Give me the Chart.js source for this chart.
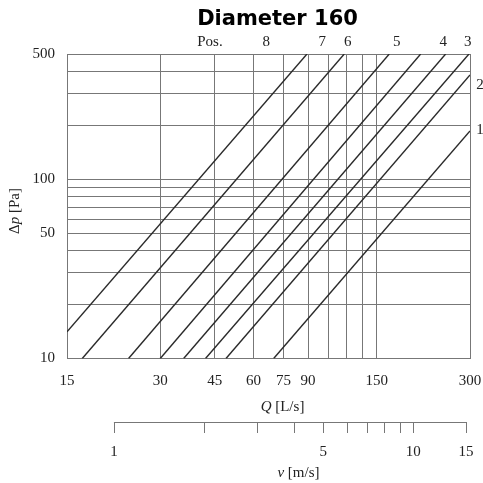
<!DOCTYPE html>
<html>
<head>
<meta charset="utf-8">
<script src="https://cdn.jsdelivr.net/npm/chart.js@4"></script>
<style>
  body { margin: 0; background: #fff; }
</style>
</head>
<body>
<canvas id="myChart" width="483" height="483"></canvas>
<script>
// line data, one entry per position (8 .. 1)
const positions = ["8", "7", "6", "5", "4", "3", "2", "1"];
const flowStart = [15, 16.8, 23.7, 30, 35.7, 42, 48.9, 69.7];
const dpStart = [14.1, 10, 10, 10, 10, 10, 10, 10];
const flowEnd = [89.3, 117.8, 164.6, 207.9, 250.3, 297.7, 300, 300];
const dpEnd = [500, 500, 500, 500, 500, 500, 382, 186];

// position labels
const topLabels = ["Pos.", "8", "7", "6", "5", "4", "3"];
const topLabelFlow = [43.4, 66, 100, 121, 174, 246, 295];
const sideLabels = ["2", "1"];
const sideLabelDp = [336, 188];

// ticks
const flowTicks = [15, 30, 45, 60, 75, 90, 105, 120, 135, 150, 300];
const flowLabels = [15, 30, 45, 60, 75, 90, 150, 300];
const dpTicks = [10, 20, 30, 40, 50, 60, 70, 80, 90, 100, 200, 300, 400, 500];
const dpLabels = [10, 50, 100, 500];
const velTicks = [1, 2, 3, 4, 5, 6, 7, 8, 9, 10, 15];
const velLabels = [1, 5, 10, 15];
const velRange = [0.697, 15.47];

const serif = "'Liberation Serif', 'DejaVu Serif', serif";
const gridColor = "#777";
const textColor = "#222";

const datasets = positions.map((p, i) => ({
  label: "Pos. " + p,
  data: [
    { x: flowStart[i], y: dpStart[i] },
    { x: flowEnd[i], y: dpEnd[i] },
  ],
  showLine: true,
  borderColor: "#2a2a2a",
  borderWidth: 1.4,
  pointRadius: 0,
}));

function richText(ctx, parts, x, y, size) {
  let total = 0;
  parts.forEach((pt) => {
    ctx.font = (pt.italic ? "italic " : "") + size + "px " + serif;
    pt.w = ctx.measureText(pt.t).width;
    total += pt.w;
  });
  let cx = x - total / 2;
  parts.forEach((pt) => {
    ctx.font = (pt.italic ? "italic " : "") + size + "px " + serif;
    ctx.fillText(pt.t, cx, y);
    cx += pt.w;
  });
}

const annotations = {
  id: "annotations",
  afterDraw(chart) {
    const { ctx, chartArea } = chart;
    const xs = chart.scales.x;
    const ys = chart.scales.y;
    const vs = chart.scales.v;
    ctx.save();
    ctx.fillStyle = "#000";
    ctx.textAlign = "center";
    ctx.textBaseline = "middle";
    ctx.font = "bold 21px 'DejaVu Sans', Verdana, sans-serif";
    ctx.fillText("Diameter 160", chart.width / 2 + 36, 20);

    ctx.fillStyle = textColor;
    ctx.font = "15px " + serif;
    topLabels.forEach((t, i) => {
      ctx.fillText(t, xs.getPixelForValue(topLabelFlow[i]), chartArea.top - 12);
    });
    sideLabels.forEach((t, i) => {
      ctx.fillText(t, chartArea.right + 10, ys.getPixelForValue(sideLabelDp[i]));
    });

    // axis titles
    ctx.textAlign = "left";
    richText(ctx, [{ t: "Q", italic: true }, { t: " [L/s]" }], (chartArea.left + chartArea.right) / 2 + 14, 407, 15);
    richText(ctx, [{ t: "v", italic: true }, { t: " [m/s]" }], (chartArea.left + chartArea.right) / 2 + 30, 473, 15);
    ctx.save();
    ctx.translate(15, 211);
    ctx.rotate(-Math.PI / 2);
    richText(ctx, [{ t: "Δ" }, { t: "p", italic: true }, { t: " [Pa]" }], 0, 0, 15);
    ctx.restore();

    // velocity axis line from first to last tick
    ctx.strokeStyle = gridColor;
    ctx.lineWidth = 1;
    ctx.beginPath();
    ctx.moveTo(vs.getPixelForValue(velTicks[0]), vs.top + 0.5);
    ctx.lineTo(vs.getPixelForValue(velTicks[velTicks.length - 1]), vs.top + 0.5);
    ctx.stroke();
    ctx.restore();
  },
};

new Chart(document.getElementById("myChart"), {
  type: "scatter",
  data: { datasets },
  options: {
    responsive: false,
    animation: false,
    layout: { padding: { top: 54, right: 13, left: 0, bottom: 0 } },
    plugins: {
      legend: { display: false },
      tooltip: { enabled: false },
    },
    scales: {
      x: {
        type: "logarithmic",
        position: "bottom",
        weight: 0,
        min: 15,
        max: 300,
        afterBuildTicks: (s) => { s.ticks = flowTicks.map((v) => ({ value: v })); },
        afterFit: (s) => { s.height = 63.5; },
        ticks: {
          autoSkip: false,
          maxRotation: 0,
          padding: 0,
          color: textColor,
          font: { family: serif, size: 15 },
          callback: (v) => (flowLabels.includes(v) ? String(v) : ""),
        },
        grid: { color: gridColor, drawTicks: true, tickLength: 14, tickColor: "rgba(0,0,0,0)" },
        border: { color: gridColor },
      },
      v: {
        type: "logarithmic",
        position: "bottom",
        weight: 1,
        min: velRange[0],
        max: velRange[1],
        afterBuildTicks: (s) => { s.ticks = velTicks.map((v) => ({ value: v })); },
        afterFit: (s) => { s.height = 61; },
        ticks: {
          autoSkip: false,
          maxRotation: 0,
          padding: 0,
          color: textColor,
          font: { family: serif, size: 15 },
          callback: (v) => (velLabels.includes(v) ? String(v) : ""),
        },
        grid: { color: gridColor, drawOnChartArea: false, drawTicks: true, tickLength: 21, tickColor: "rgba(0,0,0,0)" },
        border: { display: false },
      },
      y: {
        type: "logarithmic",
        min: 10,
        max: 500,
        afterBuildTicks: (s) => { s.ticks = dpTicks.map((v) => ({ value: v })); },
        afterFit: (s) => { s.width = 67; },
        ticks: {
          autoSkip: false,
          padding: 12,
          color: textColor,
          font: { family: serif, size: 15 },
          callback: (v) => (dpLabels.includes(v) ? String(v) : ""),
        },
        grid: { color: gridColor, drawTicks: false },
        border: { color: gridColor },
      },
    },
  },
  plugins: [annotations, {
    id: "velTicks",
    afterDraw(chart) {
      // short tick marks under the velocity axis line
      const { ctx } = chart;
      const vs = chart.scales.v;
      ctx.save();
      ctx.strokeStyle = gridColor;
      ctx.lineWidth = 1;
      ctx.beginPath();
      vs.ticks.forEach((t) => {
        const px = Math.round(vs.getPixelForValue(t.value)) + 0.5;
        ctx.moveTo(px, vs.top);
        ctx.lineTo(px, vs.top + 11);
      });
      ctx.stroke();
      ctx.restore();
    },
  }],
});
</script>
</body>
</html>
